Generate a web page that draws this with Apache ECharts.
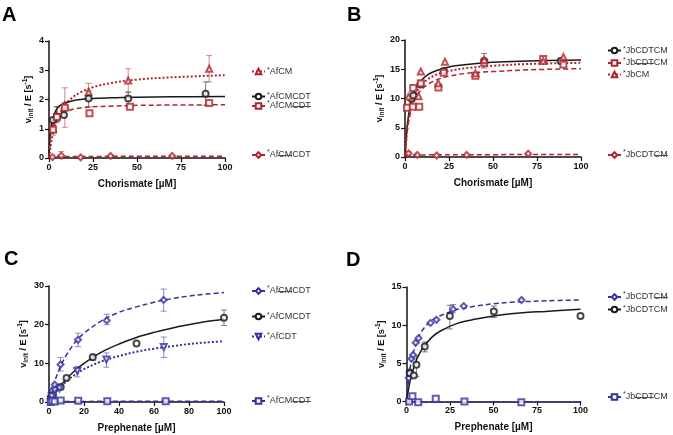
<!DOCTYPE html>
<html>
<head>
<meta charset="utf-8">
<script src="https://cdn.jsdelivr.net/npm/echarts@6/dist/echarts.min.js"></script>
<style>
  html, body { margin: 0; padding: 0; background: #fff; }
  #chart { width: 673px; height: 435px; }
</style>
</head>
<body>
<div id="chart"></div>
<script>
// ---- data ----
// A: chorismate, Af constructs
const ptsA_CM = [[2.2, 1.0], [4.5, 1.45], [9, 1.8], [22.5, 2.25], [45, 2.65], [91, 3.05]]
const errA_CM = [[4.5, 1.2, 1.75], [9, 1.05, 2.4], [22.5, 2.0, 2.55], [45, 2.25, 3.05], [91, 2.6, 3.5]]
const fitA_CM = [[0, 0], [1, 0.43], [2, 0.75], [4, 1.2], [6, 1.5], [9, 1.8], [13, 2.05], [18, 2.25], [25, 2.42], [35, 2.56], [50, 2.68], [70, 2.76], [100, 2.83]]
const ptsA_CMCDT = [[2.2, 1.3], [4.5, 1.4], [8.5, 1.47], [22.5, 2.03], [45, 2.03], [89, 2.2]]
const errA_CMCDT = [[4.5, 1.25, 1.75], [22.5, 1.75, 2.3], [45, 1.8, 2.25], [89, 1.8, 2.6]]
const fitA_CMCDT = [[0, 0], [0.5, 0.63], [1, 0.97], [2, 1.33], [4, 1.64], [6, 1.78], [9, 1.88], [13, 1.95], [18, 2.0], [25, 2.03], [35, 2.06], [50, 2.08], [70, 2.09], [100, 2.1]]
const ptsA_noCDT = [[2.3, 0.97], [4.5, 1.4], [9, 1.72], [23, 1.53], [46, 1.75], [91, 1.88]]
const errA_noCDT = [[2.3, 0.78, 1.15], [9, 1.5, 1.9]]
const fitA_noCDT = [[0, 0], [0.5, 0.46], [1, 0.74], [2, 1.06], [4, 1.35], [6, 1.48], [9, 1.59], [13, 1.66], [18, 1.71], [25, 1.75], [35, 1.77], [50, 1.8], [70, 1.81], [100, 1.82]]
const ptsA_noCM = [[2, 0.03], [7, 0.08], [18, 0.02], [35, 0.07], [70, 0.07]]
const errA_noCM = [[7, 0, 0.22]]
const fitA_noCM = [[0, 0], [1, 0.03], [5, 0.05], [100, 0.06]]

// B: chorismate, Jb constructs
const ptsB_CDTCM = [[3.8, 9.9], [4.7, 10.5], [8.7, 12.4], [22, 14.7], [45, 16.4], [88.5, 16.4]]
const errB_CDTCM = [[45, 15.2, 17.7], [88.5, 15.9, 16.9]]
const fitB_CDTCM = [[0, 0], [1, 4.5], [2, 7.1], [3, 8.8], [4.5, 10.5], [6, 11.7], [9, 13.0], [13, 14.1], [18, 14.8], [25, 15.4], [35, 15.8], [50, 16.2], [70, 16.4], [100, 16.6]]
const ptsB_noCDT = [[1.1, 8.4], [4.4, 8.6], [4.7, 11.8], [8.1, 8.6], [9, 12.6], [19, 11.9], [22, 14.4], [40, 13.9], [45, 16.1], [78.5, 16.75], [90, 15.8]]
const fitB_noCDT = [[0, 0], [1, 3.6], [2, 5.9], [3, 7.4], [4.5, 9.0], [6, 10.1], [9, 11.4], [13, 12.4], [18, 13.2], [25, 13.8], [35, 14.3], [50, 14.6], [70, 14.9], [100, 15.1]]
const ptsB_CM = [[2, 10.3], [7.7, 10.4], [9, 14.6], [18.9, 12.6], [22.7, 16.3], [40, 14.3], [45, 16.6], [78.5, 16.4], [90, 17.1]]
const fitB_CM = [[0, 0], [1, 4.0], [2, 6.4], [3, 8.0], [4.5, 9.7], [6, 10.8], [9, 12.2], [13, 13.3], [18, 14.1], [25, 14.7], [35, 15.2], [50, 15.6], [70, 15.9], [100, 16.1]]
const ptsB_noCM = [[2, 0.6], [7, 0.35], [18, 0.25], [35, 0.35], [70, 0.55]]
const errB_noCM = [[2, 0.2, 1.0]]
const fitB_noCM = [[0, 0.35], [100, 0.45]]

// C: prephenate, Af constructs
const ptsC_noCM = [[1, 1.5], [1.7, 2.8], [3.3, 4.5], [6.6, 9.7], [16.6, 16.1], [33, 21.1], [65.5, 26.4]]
const errC_noCM = [[6.6, 8, 11.5], [16.6, 14.3, 17.8], [33, 20, 22.7], [65.5, 23.5, 29.2]]
const fitC_noCM = [[0, 0], [2, 3.5], [4, 6.3], [7, 9.6], [10, 12.2], [15, 15.5], [20, 17.8], [30, 21], [40, 23.2], [50, 24.6], [60, 25.8], [70, 26.7], [80, 27.4], [90, 27.9], [100, 28.3]]
const ptsC_CMCDT = [[1, 0.9], [2.3, 1.8], [6.7, 3.9], [10, 6.2], [25, 11.6], [50, 15.1], [100, 21.8]]
const errC_CMCDT = [[25, 10.8, 12.4], [100, 19.8, 23.8]]
const fitC_CMCDT = [[0, 0], [2, 1.4], [5, 3.3], [10, 6], [15, 8.2], [20, 10], [30, 12.9], [40, 15], [50, 16.7], [60, 18], [70, 19.1], [80, 20], [90, 20.8], [100, 21.4]]
const ptsC_CDT = [[1.5, 1.4], [3.3, 3.0], [6, 3.5], [16.2, 8.0], [32.8, 11.0], [65.6, 14.2]]
const errC_CDT = [[16.2, 6.5, 9.2], [32.8, 9, 12.7], [65.6, 11.5, 16.8]]
const fitC_CDT = [[0, 0], [2, 1.4], [5, 3.1], [10, 5.4], [15, 7.1], [20, 8.5], [30, 10.5], [40, 11.9], [50, 13], [60, 13.8], [70, 14.4], [80, 15], [90, 15.4], [100, 15.7]]
const ptsC_noCDT = [[1, 0], [2, 0.3], [3.3, 0.1], [6.7, 0.4], [16.7, 0.3], [33.3, 0.2], [66.7, 0.2]]
const fitC_noCDT = [[0, 0.15], [100, 0.2]]

// D: prephenate, Jb constructs
const ptsD_noCM = [[1.3, 3.1], [1.9, 3.9], [2.9, 5.6], [3.8, 6.1], [5.3, 7.7], [6.9, 8.3], [13.8, 10.3], [17.2, 10.7], [26.8, 12.1], [32.9, 12.5], [66.1, 13.3]]
const errD_noCM = [[26.8, 11.6, 12.7]]
const fitD_noCM = [[0, 0], [1, 2.5], [2, 4.3], [4, 6.5], [6, 7.9], [8, 8.9], [10, 9.6], [15, 10.7], [20, 11.3], [30, 12.1], [40, 12.5], [50, 12.8], [60, 13], [70, 13.1], [80, 13.2], [100, 13.3]]
const ptsD_CDTCM = [[1.9, 3.7], [4.2, 3.4], [5.7, 4.8], [10.5, 7.2], [24.9, 11.2], [50.2, 11.8], [100, 11.2]]
const errD_CDTCM = [[1.9, 3.2, 4.2], [5.7, 3.3, 6], [10.5, 6.5, 7.8], [24.9, 9.5, 12.6], [50.2, 11, 12.5]]
const fitD_CDTCM = [[0, 0], [1, 1.4], [2, 2.6], [4, 4.3], [6, 5.6], [8, 6.5], [10, 7.2], [15, 8.5], [20, 9.3], [30, 10.3], [40, 10.8], [50, 11.2], [60, 11.5], [70, 11.7], [80, 11.8], [100, 12.1]]
const ptsD_noCDT = [[1.5, 0], [3.4, 0.7], [6.7, -0.1], [16.8, 0.35], [33.3, 0], [66, -0.1]]
const fitD_noCDT = [[0, -0.1], [100, -0.1]]

const xTitles = ['Chorismate [µM]', 'Chorismate [µM]', 'Prephenate [µM]', 'Prephenate [µM]']
const yMax = [4, 20, 30, 15]
const yStep = [1, 5, 10, 5]
const xStep = [25, 25, 20, 25]
const panelLetters = ['A', 'B', 'C', 'D']

const legendLabels = {
  A1: '{sup|*}AfCM',
  A2: '{sup|*}AfCMCDT',
  A3: '{sup|*}AfCM{s|CDT}',
  A4: '{sup|*}Af{s|CM}CDT',
  B1: '{sup|*}JbCDTCM',
  B2: '{sup|*}Jb{s|CDT}CM',
  B3: '{sup|*}JbCM',
  B4: '{sup|*}JbCDT{s|CM}',
  C1: '{sup|*}Af{s|CM}CDT',
  C2: '{sup|*}AfCMCDT',
  C3: '{sup|*}AfCDT',
  C4: '{sup|*}AfCM{s|CDT}',
  D1: '{sup|*}JbCDT{s|CM}',
  D2: '{sup|*}JbCDTCM',
  D3: '{sup|*}Jb{s|CDT}CM'
}
// legend row centre positions [name, x, y]
const legendPos = [
  ['A1', 251, 73], ['A2', 251, 98], ['A3', 251, 106], ['A4', 251, 155],
  ['B1', 607, 52], ['B2', 607, 63], ['B3', 607, 76], ['B4', 607, 155],
  ['C1', 251, 291], ['C2', 251, 318], ['C3', 251, 338], ['C4', 251, 401],
  ['D1', 607, 297], ['D2', 607, 311], ['D3', 607, 397]
]

const RED = '#ad262c'
const BLUE = '#3431a0'
const BLACK = '#1a1a1a'
const FONT = 'Liberation Sans'

// small image used as background to strike through legend text
const strike = document.createElement('canvas')
strike.width = 4
strike.height = 12
const sctx = strike.getContext('2d')
sctx.fillStyle = '#444'
sctx.fillRect(0, 6, 4, 1)

const grids = [
  { left: 49, top: 41, width: 176, height: 117 },
  { left: 405, top: 40, width: 176, height: 117 },
  { left: 49, top: 286, width: 175, height: 116 },
  { left: 406.5, top: 287, width: 174, height: 114.5 }
]
const yNameGap = [14, 17, 17, 18]

function errSeries(idx, data, color) {
  return {
    type: 'custom',
    xAxisIndex: idx,
    yAxisIndex: idx,
    data: data,
    z: 2,
    silent: true,
    clip: false,
    encode: { x: 0, y: [1, 2] },
    renderItem: function(params, api) {
      const top = api.coord([api.value(0), api.value(2)])
      const bot = api.coord([api.value(0), api.value(1)])
      const st = { stroke: color, lineWidth: 1, opacity: 0.55 }
      return {
        type: 'group',
        children: [
          { type: 'line', shape: { x1: top[0], y1: top[1], x2: bot[0], y2: bot[1] }, style: st },
          { type: 'line', shape: { x1: top[0] - 3, y1: top[1], x2: top[0] + 3, y2: top[1] }, style: st },
          { type: 'line', shape: { x1: bot[0] - 3, y1: bot[1], x2: bot[0] + 3, y2: bot[1] }, style: st }
        ]
      }
    }
  }
}

function dataset(idx, name, fit, pts, err, color, symbol, lineType, lineWidth, rotate) {
  const out = [{
    name: name,
    type: 'line',
    xAxisIndex: idx,
    yAxisIndex: idx,
    data: fit,
    smooth: 0.35,
    symbol: symbol,
    symbolSize: 6,
    symbolRotate: rotate || 0,
    showSymbol: false,
    clip: false,
    z: 3,
    silent: true,
    itemStyle: { color: color, borderWidth: 1.2 },
    lineStyle: { color: color, width: lineWidth, type: lineType }
  }, {
    name: name + '_pts',
    type: 'scatter',
    xAxisIndex: idx,
    yAxisIndex: idx,
    data: pts,
    symbol: symbol,
    symbolSize: 6,
    symbolRotate: rotate || 0,
    clip: false,
    z: 4,
    silent: true,
    itemStyle: { color: color, borderWidth: 1.2 }
  }]
  if (err) out.unshift(errSeries(idx, err, color))
  return out
}

const series = [].concat(
  dataset(0, 'A1', fitA_CM, ptsA_CM, errA_CM, RED, 'emptyTriangle', [2, 2], 2),
  dataset(0, 'A2', fitA_CMCDT, ptsA_CMCDT, errA_CMCDT, BLACK, 'emptyCircle', 'solid', 1.5),
  dataset(0, 'A3', fitA_noCDT, ptsA_noCDT, errA_noCDT, RED, 'emptyRect', [5, 3], 1.5),
  dataset(0, 'A4', fitA_noCM, ptsA_noCM, errA_noCM, RED, 'emptyDiamond', [5, 3], 1.5),
  dataset(1, 'B1', fitB_CDTCM, ptsB_CDTCM, errB_CDTCM, BLACK, 'emptyCircle', 'solid', 1.5),
  dataset(1, 'B2', fitB_noCDT, ptsB_noCDT, null, RED, 'emptyRect', [5, 3], 1.5),
  dataset(1, 'B3', fitB_CM, ptsB_CM, null, RED, 'emptyTriangle', [2, 2], 2),
  dataset(1, 'B4', fitB_noCM, ptsB_noCM, errB_noCM, RED, 'emptyDiamond', [5, 3], 1.5),
  dataset(2, 'C1', fitC_noCM, ptsC_noCM, errC_noCM, BLUE, 'emptyDiamond', [5, 3], 1.5),
  dataset(2, 'C2', fitC_CMCDT, ptsC_CMCDT, errC_CMCDT, BLACK, 'emptyCircle', 'solid', 1.5),
  dataset(2, 'C3', fitC_CDT, ptsC_CDT, errC_CDT, BLUE, 'emptyTriangle', [2, 2], 2, 180),
  dataset(2, 'C4', fitC_noCDT, ptsC_noCDT, null, BLUE, 'emptyRect', [5, 3], 1.5),
  dataset(3, 'D1', fitD_noCM, ptsD_noCM, errD_noCM, BLUE, 'emptyDiamond', [5, 3], 1.5),
  dataset(3, 'D2', fitD_CDTCM, ptsD_CDTCM, errD_CDTCM, BLACK, 'emptyCircle', 'solid', 1.5),
  dataset(3, 'D3', fitD_noCDT, ptsD_noCDT, null, BLUE, 'emptyRect', [5, 3], 1.5)
)

const axisLine = { lineStyle: { color: '#111', width: 1.5 } }
const axisTick = { length: 4, lineStyle: { color: '#111', width: 1.2 } }
const tickLabel = { fontFamily: FONT, fontSize: 9, fontWeight: 'bold', color: '#111', margin: 5 }

const xAxes = grids.map(function(g, i) {
  return {
    type: 'value',
    gridIndex: i,
    min: 0,
    max: 100,
    interval: xStep[i],
    name: xTitles[i],
    nameLocation: 'middle',
    nameGap: 21,
    nameTextStyle: { fontFamily: FONT, fontSize: 10, fontWeight: 'bold', color: '#111' },
    axisLine: axisLine,
    axisTick: axisTick,
    axisLabel: tickLabel,
    splitLine: { show: false }
  }
})

const yAxes = grids.map(function(g, i) {
  return {
    type: 'value',
    gridIndex: i,
    min: 0,
    max: yMax[i],
    interval: yStep[i],
    name: '{m|v}{sub|init}{m| / E [s}{sup|-1}{m|]}',
    nameLocation: 'middle',
    nameGap: yNameGap[i],
    nameTextStyle: {
      rich: {
        m: { fontFamily: FONT, fontSize: 9, fontWeight: 'bold', color: '#111', lineHeight: 13 },
        sub: { fontFamily: FONT, fontSize: 6.5, fontWeight: 'bold', color: '#111', lineHeight: 6, verticalAlign: 'bottom' },
        sup: { fontFamily: FONT, fontSize: 6.5, fontWeight: 'bold', color: '#111', lineHeight: 6, verticalAlign: 'top' }
      }
    },
    axisLine: axisLine,
    axisTick: axisTick,
    axisLabel: tickLabel,
    splitLine: { show: false }
  }
})

const legends = legendPos.map(function(p) {
  return {
    left: p[1],
    top: p[2] - 6,
    padding: 0,
    itemWidth: 13,
    itemHeight: 7,
    itemGap: 0,
    selectedMode: false,
    data: [p[0]],
    formatter: function(name) { return legendLabels[name] },
    textStyle: {
      fontFamily: FONT,
      fontSize: 9,
      color: '#333',
      padding: [0, 0, 0, -3],
      rich: {
        sup: { fontFamily: FONT, fontSize: 7, color: '#333', lineHeight: 6, verticalAlign: 'top' },
        s: { fontFamily: FONT, fontSize: 9, color: '#333', lineHeight: 12, backgroundColor: { image: strike } }
      }
    }
  }
})

const titles = [[2, 5], [347, 5], [4, 249], [346, 250]].map(function(p, i) {
  return {
    text: panelLetters[i],
    left: p[0],
    top: p[1],
    padding: 0,
    textStyle: { fontFamily: FONT, fontSize: 20, fontWeight: 'bold', color: '#000' }
  }
})

const chart = echarts.init(document.getElementById('chart'))
chart.setOption({
  animation: false,
  backgroundColor: '#fff',
  title: titles,
  legend: legends,
  grid: grids,
  xAxis: xAxes,
  yAxis: yAxes,
  series: series
})
</script>
</body>
</html>
